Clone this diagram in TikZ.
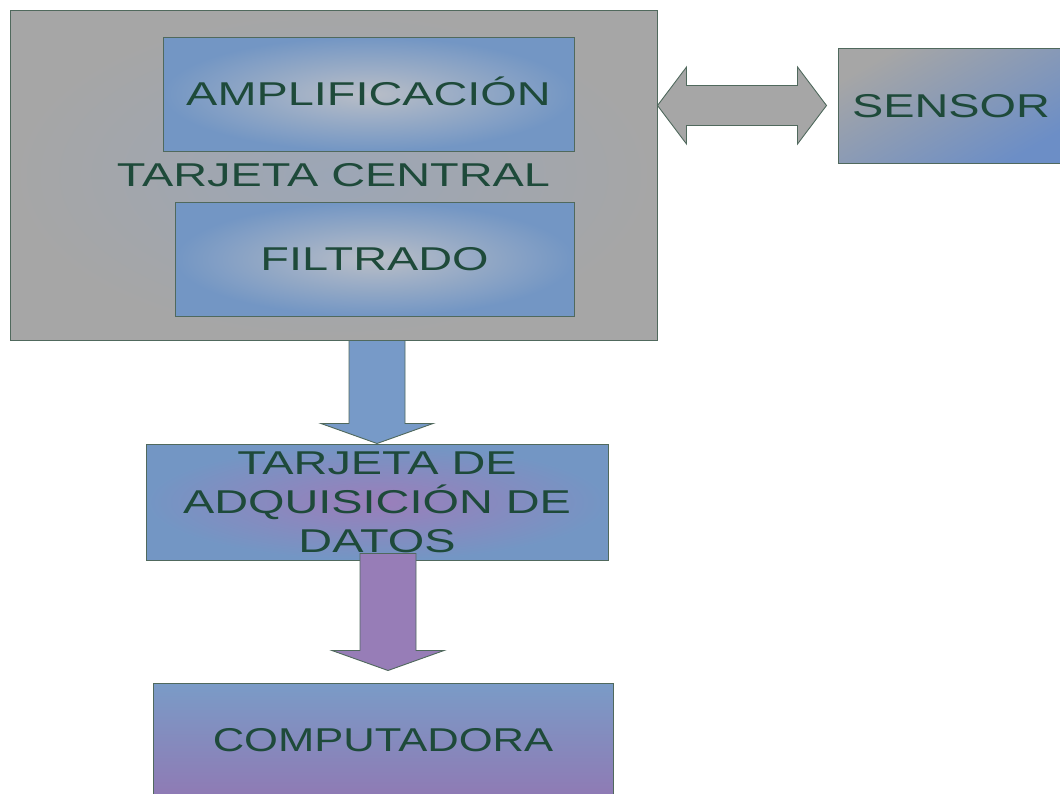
\documentclass[tikz,border=0pt]{standalone}
\usepackage{fontspec}
\setmainfont{Liberation Sans}
\usepackage{graphicx}
\usepackage{tikz}
\usetikzlibrary{calc,positioning}
\definecolor{txtgreen}{HTML}{1E4A3A}
\definecolor{edgegreen}{HTML}{50695D}
\definecolor{boxgray}{HTML}{A6A6A6}
\definecolor{midgray}{HTML}{9CA6B6}
\definecolor{boxblue}{HTML}{7396C4}
\definecolor{paleblue}{HTML}{B9BEC7}
\definecolor{sensblue}{HTML}{6C8EC6}
\definecolor{lilac}{HTML}{9B7EBA}
\definecolor{lilacdk}{HTML}{8F7AB4}
\definecolor{arrowblue}{HTML}{779AC8}
\definecolor{arrowlilac}{HTML}{977DB7}
\newcommand{\WideText}[2][1.42]{\scalebox{#1}[1]{#2}}
\newcommand{\DownBlock}[3]{%
  \draw[blockline, fill=#3] ($(#1)+(-28,0)$) -- ($(#2)+(-28,-20)$) -- ($(#2)+(-56,-20)$) -- (#2)
    -- ($(#2)+(56,-20)$) -- ($(#2)+(28,-20)$) -- ($(#1)+(28,0)$) -- cycle;
}

\begin{document}
\begin{tikzpicture}[x=1pt,y=-1pt,
    boxline/.style={draw=edgegreen, line width=1pt},
    blockline/.style={draw=edgegreen, line width=0.9pt, line join=miter},
    label/.style={text=txtgreen, font=\fontsize{33}{39}\selectfont, text height=23.6pt, text depth=0pt, align=center, inner sep=0pt}]
  \useasboundingbox (0,0) rectangle (1060,793);
  % tarjeta central
  \path (333.5,175) node (central) [boxline, label, minimum width=647, minimum height=330, inner color=midgray, outer color=boxgray] {\WideText{TARJETA CENTRAL}};
  \path (368.5,94) node (amp) [boxline, label, minimum width=411, minimum height=114, inner color=paleblue, outer color=boxblue] {\WideText{AMPLIFICACIÓN}};
  \path (374.5,259) node (filt) [boxline, label, minimum width=399, minimum height=114, inner color=paleblue, outer color=boxblue] {\WideText{FILTRADO}};
  % sensor
  \path (951,105.5) node (sensor) [boxline, label, minimum width=226, minimum height=115, top color=boxgray, bottom color=sensblue, shading angle=30] {\WideText{SENSOR}};
  % adquisicion y computadora
  \path (377,502) node (adq) [boxline, label, text height=101.6pt, minimum width=462, minimum height=116, inner color=lilac, outer color=boxblue] {\WideText{TARJETA DE}\\ \WideText{ADQUISICIÓN DE}\\ \WideText{DATOS}};
  \path (383,740) node (comp) [boxline, label, minimum width=460, minimum height=114, top color=boxblue!95!white, bottom color=lilacdk] {\WideText[1.32]{COMPUTADORA}};
  % flechas
  \coordinate (lt) at (central.east |- sensor.west);
  \coordinate (rt) at ($(sensor.west)+(-11,0)$);
  \draw[blockline, fill=boxgray] (lt) -- ($(lt)+(29,-38.5)$) -- ($(lt)+(29,-20)$) -- ($(rt)+(-29,-20)$) -- ($(rt)+(-29,-38.5)$) -- (rt)
    -- ($(rt)+(-29,38.5)$) -- ($(rt)+(-29,20)$) -- ($(lt)+(29,20)$) -- ($(lt)+(29,38.5)$) -- cycle;
  \coordinate (d1) at (central.south -| adq.north);
  \DownBlock{d1}{adq.north}{arrowblue}
  \coordinate (d2) at ($(adq.south)+(11,-7)$);
  \coordinate (t2) at ($(comp.north)+(5,-12)$);
  \DownBlock{d2}{t2}{arrowlilac}
\end{tikzpicture}
\end{document}
